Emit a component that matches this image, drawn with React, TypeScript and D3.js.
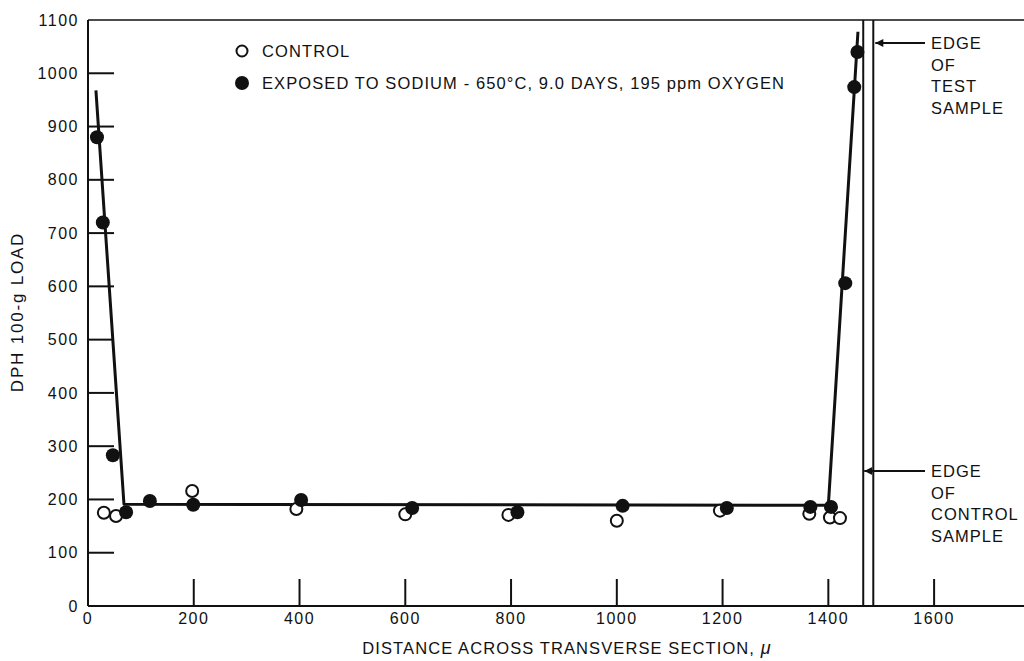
import React, { useEffect, useRef } from "react";
import * as d3 from "d3";

// control specimen (open circles)
const controlX = [30, 53, 197, 394, 600, 795, 1000, 1195, 1364, 1403, 1422];
const controlY = [175, 169, 216, 182, 172, 171, 160, 179, 173, 166, 165];

// exposed to sodium (filled circles)
const exposedX = [17, 28, 47, 72, 117, 199, 403, 613, 812, 1011, 1208, 1366, 1405, 1432, 1449, 1455];
const exposedY = [880, 720, 283, 176, 197, 190, 199, 184, 176, 188, 184, 186, 186, 606, 974, 1040];

// drawn trend line
const fitX = [15, 68, 1400, 1456];
const fitY = [968, 191, 189, 1078];

const xTicks = [0, 200, 400, 600, 800, 1000, 1200, 1400, 1600];
const yTicks = [0, 100, 200, 300, 400, 500, 600, 700, 800, 900, 1000, 1100];

const testEdge = 1485;
const controlEdge = 1466;

const FONT = "'Liberation Sans', Arial, sans-serif";

export default function App() {
  const ref = useRef<SVGSVGElement | null>(null);

  useEffect(() => {
    if (!ref.current) return;
    const svg = d3.select(ref.current);
    svg.selectAll("*").remove();

    const width = 1024;
    const height = 661;
    const margin = { top: 20, right: 0, bottom: 55, left: 88 };

    const x = d3.scaleLinear().domain([0, 1770]).range([margin.left, width - margin.right]);
    const y = d3.scaleLinear().domain([0, 1100]).range([height - margin.bottom, margin.top]);

    const ink = "#111";

    svg.append("defs").append("marker")
      .attr("id", "arrow")
      .attr("viewBox", "0 0 10 10")
      .attr("refX", 10).attr("refY", 5)
      .attr("markerWidth", 14).attr("markerHeight", 8)
      .attr("markerUnits", "userSpaceOnUse")
      .attr("orient", "auto")
      .append("path").attr("d", "M0,0 L10,5 L0,10 z").attr("fill", ink);

    // frame: left axis, bottom axis, top border
    svg.append("line")
      .attr("x1", x(0)).attr("x2", x(0))
      .attr("y1", y(0)).attr("y2", y(1100))
      .attr("stroke", ink).attr("stroke-width", 2);
    svg.append("line")
      .attr("x1", x(0)).attr("x2", x(1770))
      .attr("y1", y(0)).attr("y2", y(0))
      .attr("stroke", ink).attr("stroke-width", 2);
    svg.append("line")
      .attr("x1", x(0)).attr("x2", x(1770))
      .attr("y1", y(1100)).attr("y2", y(1100))
      .attr("stroke", ink).attr("stroke-width", 1.5);

    // y ticks (inward)
    const yg = svg.append("g");
    yTicks.forEach(t => {
      if (t > 0 && t < 1100) {
        yg.append("line")
          .attr("x1", x(0)).attr("x2", x(0) + 26)
          .attr("y1", y(t)).attr("y2", y(t))
          .attr("stroke", ink).attr("stroke-width", 2);
      }
      yg.append("text")
        .attr("x", x(0) - 9).attr("y", y(t))
        .attr("dy", "0.35em")
        .attr("text-anchor", "end")
        .attr("font-size", 16).attr("font-family", FONT)
        .attr("letter-spacing", 1.5)
        .attr("fill", ink)
        .text(t);
    });

    // x ticks (inward)
    const xg = svg.append("g");
    xTicks.forEach(t => {
      if (t > 0) {
        xg.append("line")
          .attr("x1", x(t)).attr("x2", x(t))
          .attr("y1", y(0)).attr("y2", y(0) - 27)
          .attr("stroke", ink).attr("stroke-width", 2);
      }
      xg.append("text")
        .attr("x", x(t)).attr("y", y(0) + 18)
        .attr("text-anchor", "middle")
        .attr("font-size", 16).attr("font-family", FONT)
        .attr("letter-spacing", 1.5)
        .attr("fill", ink)
        .text(t);
    });

    // axis titles
    const xt = svg.append("text")
      .attr("x", 567).attr("y", 654)
      .attr("text-anchor", "middle")
      .attr("font-size", 16.5).attr("font-family", FONT)
      .attr("letter-spacing", 1.1)
      .attr("fill", ink);
    xt.append("tspan").text("DISTANCE ACROSS TRANSVERSE SECTION, ");
    xt.append("tspan").attr("font-style", "italic").attr("font-size", 18).text("μ");

    svg.append("text")
      .attr("transform", "translate(23,312) rotate(-90)")
      .attr("text-anchor", "middle")
      .attr("font-size", 17).attr("font-family", FONT)
      .attr("letter-spacing", 1.8)
      .attr("fill", ink)
      .text("DPH 100-g LOAD");

    // sample edges
    [controlEdge, testEdge].forEach(e => {
      svg.append("line")
        .attr("x1", x(e)).attr("x2", x(e))
        .attr("y1", y(0)).attr("y2", y(1100))
        .attr("stroke", ink).attr("stroke-width", 2);
    });

    const note = (lines: string[], ly: number, tipX: number) => {
      svg.append("line")
        .attr("x1", 925).attr("x2", tipX)
        .attr("y1", ly).attr("y2", ly)
        .attr("stroke", ink).attr("stroke-width", 2)
        .attr("marker-end", "url(#arrow)");
      const t = svg.append("text")
        .attr("font-size", 16.5).attr("font-family", FONT)
        .attr("letter-spacing", 1)
        .attr("fill", ink);
      lines.forEach((s, i) => {
        t.append("tspan").attr("x", 931).attr("y", ly + 6 + i * 21.5).text(s);
      });
    };
    note(["EDGE", "OF", "TEST", "SAMPLE"], 43, x(testEdge) + 2);
    note(["EDGE", "OF", "CONTROL", "SAMPLE"], 471, x(controlEdge) + 1);

    // trend line
    const line = d3.line<number>()
      .x(i => x(fitX[i]))
      .y(i => y(fitY[i]));
    svg.append("path")
      .datum(d3.range(fitX.length))
      .attr("fill", "none")
      .attr("stroke", ink)
      .attr("stroke-width", 3)
      .attr("stroke-linejoin", "round")
      .attr("d", line);

    // points
    svg.append("g").selectAll("circle")
      .data(d3.range(controlX.length))
      .join("circle")
      .attr("cx", i => x(controlX[i]))
      .attr("cy", i => y(controlY[i]))
      .attr("r", 6)
      .attr("fill", "#fff")
      .attr("stroke", ink).attr("stroke-width", 2);

    svg.append("g").selectAll("circle")
      .data(d3.range(exposedX.length))
      .join("circle")
      .attr("cx", i => x(exposedX[i]))
      .attr("cy", i => y(exposedY[i]))
      .attr("r", 7)
      .attr("fill", ink);

    // legend
    const lg = svg.append("g");
    lg.append("circle").attr("cx", 242).attr("cy", 51).attr("r", 5.5)
      .attr("fill", "#fff").attr("stroke", ink).attr("stroke-width", 2);
    lg.append("text").attr("x", 262).attr("y", 51).attr("dy", "0.35em")
      .attr("font-size", 16.5).attr("font-family", FONT).attr("letter-spacing", 1.1)
      .attr("fill", ink).text("CONTROL");
    lg.append("circle").attr("cx", 242).attr("cy", 83).attr("r", 7).attr("fill", ink);
    lg.append("text").attr("x", 262).attr("y", 83).attr("dy", "0.35em")
      .attr("font-size", 16.5).attr("font-family", FONT).attr("letter-spacing", 1.1)
      .attr("fill", ink).text("EXPOSED TO SODIUM - 650°C, 9.0 DAYS, 195 ppm OXYGEN");
  }, []);

  return (
    <svg
      ref={ref}
      width="1024"
      height="661"
      style={{ position: "absolute", left: 0, top: 0, display: "block", background: "#fff" }}
    ></svg>
  );
}
